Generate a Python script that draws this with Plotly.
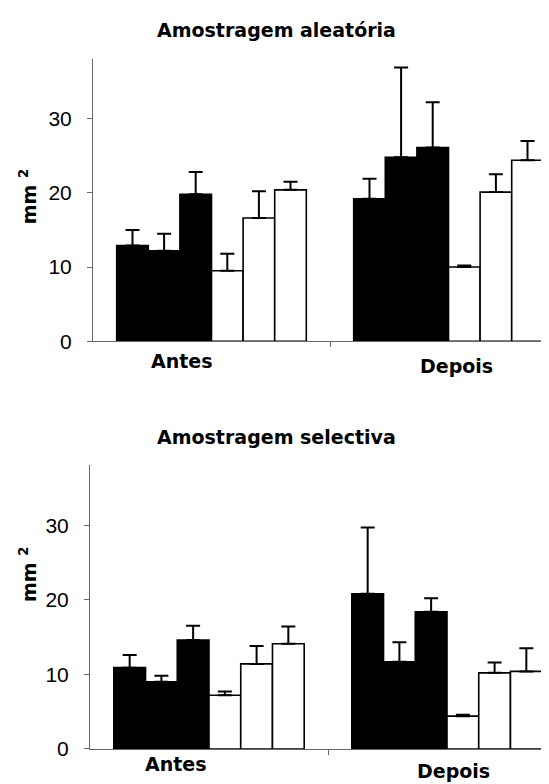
import plotly.graph_objects as go

categories = ["Antes", "Depois"]
series_names = ["A1", "A2", "A3", "B1", "B2", "B3"]
series_fill = ["black", "black", "black", "white", "white", "white"]

# Amostragem aleatória (means and upper error)
alea_means = [
    [12.9, 19.2],
    [12.2, 24.8],
    [19.8, 26.1],
    [9.5, 10.0],
    [16.6, 20.1],
    [20.4, 24.4],
]
alea_err = [
    [2.1, 2.7],
    [2.3, 12.1],
    [3.0, 6.1],
    [2.3, 0.2],
    [3.6, 2.4],
    [1.1, 2.6],
]

# Amostragem selectiva
sel_means = [
    [10.9, 20.8],
    [9.0, 11.7],
    [14.6, 18.4],
    [7.2, 4.4],
    [11.4, 10.2],
    [14.1, 10.4],
]
sel_err = [
    [1.7, 8.9],
    [0.8, 2.6],
    [1.9, 1.8],
    [0.5, 0.2],
    [2.4, 1.4],
    [2.3, 3.1],
]

y_ticks = [0, 10, 20, 30]
titles = ["Amostragem aleatória", "Amostragem selectiva"]

W, H = 549, 784
xpos = list(range(len(categories)))

fig = go.Figure()

for means, errs, ax in [(alea_means, alea_err, ""), (sel_means, sel_err, "2")]:
    for name, fill, m, e in zip(series_names, series_fill, means, errs):
        fig.add_trace(go.Bar(
            x=xpos, y=m, name=name, showlegend=False,
            marker=dict(color=fill, line=dict(color="black", width=1.6)),
            error_y=dict(type="data", array=e, arrayminus=[0] * len(e),
                         symmetric=False, color="black", thickness=2, width=7),
            xaxis="x" + ax, yaxis="y" + ax,
        ))

# geometry (pixels)
top = dict(yaxis_left=85, zero=338, top=52, unit=237)
bot = dict(yaxis_left=82, zero=751.5, top=464, unit=238)

def dom_x(g):
    return [g["yaxis_left"] / W, 1.0]

def dom_y(g):
    return [(H - g["zero"]) / H, (H - g["top"]) / H]

def xrange(g):
    return [-0.5, -0.5 + (W - g["yaxis_left"]) / g["unit"]]

axis_common = dict(showline=True, linecolor="#666", linewidth=1, showgrid=False,
                   zeroline=False)
xcommon = dict(axis_common, tickmode="array", tickvals=[0.5], ticktext=[""],
               ticks="outside", ticklen=5, tickcolor="#666")
ycommon = dict(axis_common, tickmode="array", tickvals=y_ticks,
               ticks="outside", ticklen=5, tickcolor="#666", range=[0, 38],
               ticklabelstandoff=11,
               tickfont=dict(family="Liberation Sans", size=21, color="black"))

fig.update_layout(
    width=W, height=H,
    margin=dict(l=0, r=0, t=0, b=0),
    paper_bgcolor="white", plot_bgcolor="white",
    barmode="group", bargap=0.2, bargroupgap=0,
    xaxis=dict(xcommon, domain=dom_x(top), range=xrange(top), anchor="y"),
    yaxis=dict(ycommon, domain=dom_y(top), anchor="x"),
    xaxis2=dict(xcommon, domain=dom_x(bot), range=xrange(bot), anchor="y2"),
    yaxis2=dict(ycommon, domain=dom_y(bot), anchor="x2"),
)

bold = dict(family="DejaVu Sans", size=19, color="black", weight="bold")
ann = []
# titles
ann.append(dict(text=titles[0], x=268 / W, y=(H - 22) / H, xref="paper", yref="paper",
                showarrow=False, font=bold, xanchor="center", yanchor="middle"))
ann.append(dict(text=titles[1], x=268 / W, y=(H - 435) / H, xref="paper", yref="paper",
                showarrow=False, font=bold, xanchor="center", yanchor="middle"))
# y titles
for yc in [192, 575]:
    ann.append(dict(text="mm <sup>2</sup>", x=20 / W, y=(H - yc) / H, xref="paper",
                    yref="paper", showarrow=False, textangle=-90, font=bold,
                    xanchor="center", yanchor="middle"))
# category labels
label_pos = [
    ("x", [(-30, 358), (8, 363)]),
    ("x2", [(-33, 767), (6, 774)]),
]
for xr, pos in label_pos:
    for i, (dx, yc) in enumerate(pos):
        ann.append(dict(text=categories[i], x=xpos[i], xref=xr, xshift=dx,
                        y=(H - yc) / H, yref="paper", showarrow=False, font=bold,
                        xanchor="center", yanchor="middle"))

fig.update_layout(annotations=ann)
fig.write_html("out.html")
